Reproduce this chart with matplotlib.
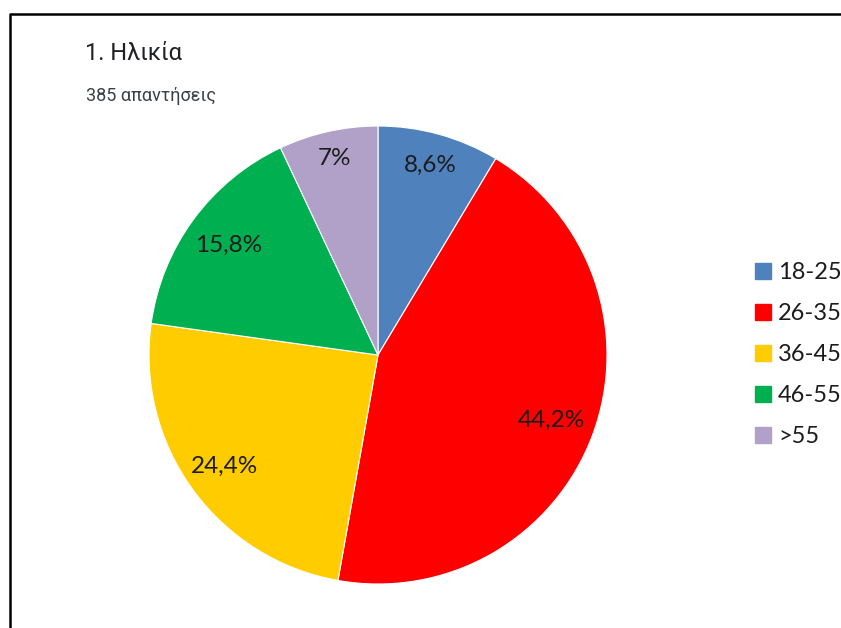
import matplotlib
matplotlib.use('Agg')
import matplotlib.pyplot as plt
from matplotlib.lines import Line2D
import numpy as np

# age groups of the survey answers
groups = ['18-25', '26-35', '36-45', '46-55', '>55']
shares = [8.6, 44.2, 24.4, 15.8, 7.0]
share_labels = ['8,6%', '44,2%', '24,4%', '15,8%', '7%']
colors = ['#4F81BD', '#FF0000', '#FFCC00', '#00B050', '#B1A0C7']
label_dist = [0.86, 0.81, 0.83, 0.81, 0.88]

W, H = 841, 628
fig = plt.figure(figsize=(W / 100, H / 100), dpi=100)

cx, cy, r = 378, 355, 229
ax = fig.add_axes([(cx - r) / W, (H - cy - r) / H, 2 * r / W, 2 * r / H])
wedges, _ = ax.pie(shares, colors=colors, startangle=90, counterclock=False,
                   radius=1, wedgeprops=dict(linewidth=0.8, edgecolor='white'))
ax.set_xlim(-1, 1)
ax.set_ylim(-1, 1)
ax.set_aspect('equal')
ax.axis('off')

for w, lab, d in zip(wedges, share_labels, label_dist):
    ang = np.deg2rad((w.theta1 + w.theta2) / 2)
    ax.text(d * np.cos(ang), d * np.sin(ang), lab, ha='center', va='center',
            fontsize=17.5, family='Lato', color='#1c1c1c')

# title block
fig.text(85 / W, 1 - 53 / H, '1. Ηλικία', fontsize=17, family='Roboto',
         color='#202124', va='center')
fig.text(86 / W, 1 - 96 / H, '385 απαντήσεις', fontsize=13, family='Roboto',
         color='#3c4043', va='center')

handles = [Line2D([], [], marker='s', linestyle='none', markersize=11.5,
                  markerfacecolor=c, markeredgecolor=c) for c in colors]
leg = fig.legend(handles, groups, loc='upper left',
                 bbox_to_anchor=(755 / W, 1 - 262 / H), frameon=False,
                 prop=dict(family='Lato', size=17), handlelength=0.7,
                 handletextpad=0.27, labelspacing=0.85, borderpad=0,
                 borderaxespad=0)
for t in leg.get_texts():
    t.set_color('#1c1c1c')

# frame lines at top and left
fig.add_artist(Line2D([9.5 / W, 9.5 / W, 1], [0, 1 - 13.5 / H, 1 - 13.5 / H],
                      transform=fig.transFigure, color='black', linewidth=1.8))

fig.savefig('out.png', dpi=100)
